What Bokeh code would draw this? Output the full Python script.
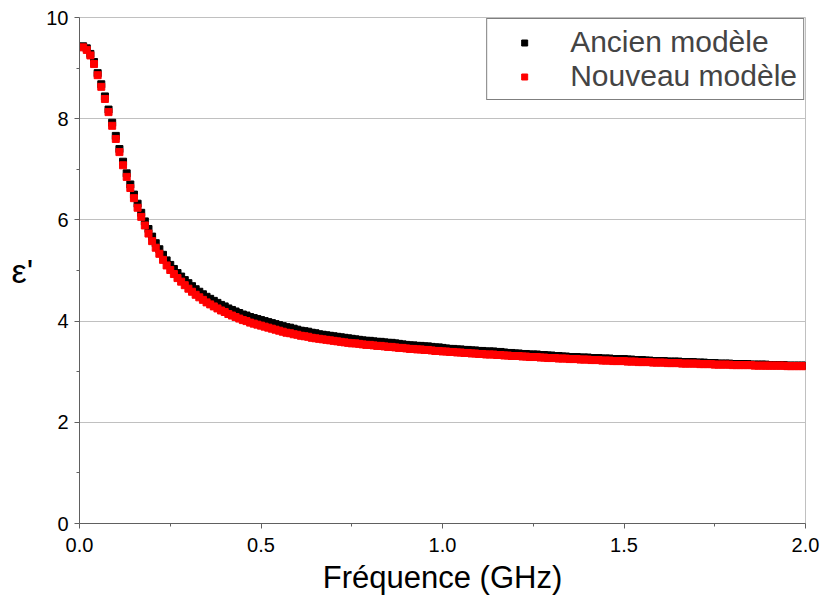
from bokeh.plotting import figure
from bokeh.models import Range1d, FixedTicker, Legend, LegendItem, NumeralTickFormatter
from bokeh.embed import file_html
from bokeh.resources import INLINE

freq = [
    0.01, 0.02, 0.03, 0.04, 0.05, 0.06, 0.07, 0.08, 0.09, 0.10,
    0.11, 0.12, 0.13, 0.14, 0.15, 0.16, 0.17, 0.18, 0.19, 0.20,
    0.21, 0.22, 0.23, 0.24, 0.25, 0.26, 0.27, 0.28, 0.29, 0.30,
    0.31, 0.32, 0.33, 0.34, 0.35, 0.36, 0.37, 0.38, 0.39, 0.40,
    0.41, 0.42, 0.43, 0.44, 0.45, 0.46, 0.47, 0.48, 0.49, 0.50,
    0.51, 0.52, 0.53, 0.54, 0.55, 0.56, 0.57, 0.58, 0.59, 0.60,
    0.61, 0.62, 0.63, 0.64, 0.65, 0.66, 0.67, 0.68, 0.69, 0.70,
    0.71, 0.72, 0.73, 0.74, 0.75, 0.76, 0.77, 0.78, 0.79, 0.80,
    0.81, 0.82, 0.83, 0.84, 0.85, 0.86, 0.87, 0.88, 0.89, 0.90,
    0.91, 0.92, 0.93, 0.94, 0.95, 0.96, 0.97, 0.98, 0.99, 1.00,
    1.01, 1.02, 1.03, 1.04, 1.05, 1.06, 1.07, 1.08, 1.09, 1.10,
    1.11, 1.12, 1.13, 1.14, 1.15, 1.16, 1.17, 1.18, 1.19, 1.20,
    1.21, 1.22, 1.23, 1.24, 1.25, 1.26, 1.27, 1.28, 1.29, 1.30,
    1.31, 1.32, 1.33, 1.34, 1.35, 1.36, 1.37, 1.38, 1.39, 1.40,
    1.41, 1.42, 1.43, 1.44, 1.45, 1.46, 1.47, 1.48, 1.49, 1.50,
    1.51, 1.52, 1.53, 1.54, 1.55, 1.56, 1.57, 1.58, 1.59, 1.60,
    1.61, 1.62, 1.63, 1.64, 1.65, 1.66, 1.67, 1.68, 1.69, 1.70,
    1.71, 1.72, 1.73, 1.74, 1.75, 1.76, 1.77, 1.78, 1.79, 1.80,
    1.81, 1.82, 1.83, 1.84, 1.85, 1.86, 1.87, 1.88, 1.89, 1.90,
    1.91, 1.92, 1.93, 1.94, 1.95, 1.96, 1.97, 1.98, 1.99, 2.00,
]

ancien = [
    9.43, 9.39, 9.28, 9.12, 8.90, 8.68, 8.44, 8.18, 7.92, 7.66,
    7.40, 7.15, 6.92, 6.70, 6.50, 6.32, 6.14, 5.97, 5.82, 5.67,
    5.54, 5.42, 5.31, 5.20, 5.11, 5.03, 4.95, 4.88, 4.81, 4.75,
    4.69, 4.63, 4.58, 4.53, 4.48, 4.44, 4.40, 4.36, 4.32, 4.29,
    4.25, 4.22, 4.19, 4.16, 4.13, 4.11, 4.08, 4.06, 4.04, 4.02,
    4.00, 3.98, 3.96, 3.94, 3.92, 3.90, 3.88, 3.87, 3.85, 3.83,
    3.81, 3.80, 3.79, 3.77, 3.76, 3.74, 3.73, 3.72, 3.71, 3.70,
    3.69, 3.68, 3.67, 3.66, 3.65, 3.64, 3.63, 3.62, 3.61, 3.61,
    3.60, 3.59, 3.59, 3.58, 3.57, 3.57, 3.56, 3.55, 3.54, 3.53,
    3.52, 3.52, 3.51, 3.51, 3.50, 3.50, 3.49, 3.48, 3.48, 3.47,
    3.46, 3.45, 3.45, 3.44, 3.44, 3.43, 3.43, 3.42, 3.42, 3.41,
    3.41, 3.40, 3.40, 3.40, 3.39, 3.39, 3.38, 3.37, 3.37, 3.36,
    3.36, 3.35, 3.35, 3.34, 3.34, 3.34, 3.33, 3.33, 3.32, 3.32,
    3.31, 3.31, 3.30, 3.30, 3.29, 3.29, 3.29, 3.28, 3.28, 3.28,
    3.27, 3.27, 3.27, 3.26, 3.26, 3.26, 3.25, 3.25, 3.25, 3.25,
    3.24, 3.24, 3.23, 3.23, 3.23, 3.22, 3.22, 3.21, 3.21, 3.21,
    3.21, 3.20, 3.20, 3.20, 3.20, 3.19, 3.19, 3.19, 3.19, 3.18,
    3.18, 3.18, 3.17, 3.17, 3.17, 3.16, 3.16, 3.16, 3.16, 3.15,
    3.15, 3.15, 3.15, 3.15, 3.14, 3.14, 3.14, 3.14, 3.14, 3.13,
    3.13, 3.13, 3.13, 3.13, 3.12, 3.12, 3.12, 3.12, 3.12, 3.12,
]

nouveau = [
    9.41, 9.36, 9.25, 9.08, 8.86, 8.63, 8.39, 8.13, 7.86, 7.60,
    7.34, 7.08, 6.85, 6.63, 6.43, 6.24, 6.06, 5.89, 5.73, 5.58,
    5.45, 5.33, 5.21, 5.10, 5.01, 4.93, 4.85, 4.78, 4.71, 4.64,
    4.58, 4.52, 4.47, 4.42, 4.37, 4.33, 4.29, 4.25, 4.21, 4.18,
    4.14, 4.11, 4.08, 4.05, 4.02, 4.00, 3.97, 3.95, 3.93, 3.91,
    3.89, 3.87, 3.85, 3.83, 3.81, 3.79, 3.77, 3.76, 3.74, 3.73,
    3.71, 3.70, 3.69, 3.67, 3.66, 3.65, 3.64, 3.63, 3.62, 3.61,
    3.60, 3.59, 3.58, 3.57, 3.56, 3.56, 3.55, 3.54, 3.53, 3.53,
    3.52, 3.51, 3.51, 3.50, 3.49, 3.49, 3.48, 3.47, 3.47, 3.46,
    3.45, 3.45, 3.44, 3.44, 3.43, 3.43, 3.42, 3.41, 3.41, 3.40,
    3.40, 3.39, 3.39, 3.38, 3.38, 3.37, 3.37, 3.36, 3.36, 3.35,
    3.35, 3.34, 3.34, 3.34, 3.33, 3.33, 3.32, 3.32, 3.31, 3.31,
    3.31, 3.30, 3.30, 3.29, 3.29, 3.29, 3.28, 3.28, 3.27, 3.27,
    3.27, 3.26, 3.26, 3.26, 3.25, 3.25, 3.25, 3.24, 3.24, 3.24,
    3.23, 3.23, 3.23, 3.22, 3.22, 3.22, 3.21, 3.21, 3.21, 3.21,
    3.20, 3.20, 3.20, 3.19, 3.19, 3.19, 3.19, 3.18, 3.18, 3.18,
    3.18, 3.17, 3.17, 3.17, 3.17, 3.16, 3.16, 3.16, 3.16, 3.16,
    3.15, 3.15, 3.15, 3.15, 3.14, 3.14, 3.14, 3.14, 3.14, 3.13,
    3.13, 3.13, 3.13, 3.13, 3.13, 3.12, 3.12, 3.12, 3.12, 3.12,
    3.12, 3.12, 3.12, 3.12, 3.11, 3.11, 3.11, 3.11, 3.11, 3.11,
]

x_ticks = [0.0, 0.5, 1.0, 1.5, 2.0]
x_minor = [0.25, 0.75, 1.25, 1.75]
y_ticks = [0, 2, 4, 6, 8, 10]
y_minor = [1, 3, 5, 7, 9]
series_names = ["Ancien modèle", "Nouveau modèle"]
x_title = "Fréquence (GHz)"
y_title = "ε'"

FONT = "Liberation Sans"

p = figure(width=823, height=599, output_backend="svg", toolbar_location=None,
           x_range=Range1d(0, 2), y_range=Range1d(0, 10),
           min_border_left=79, min_border_right=18, min_border_top=17, min_border_bottom=76)
p.background_fill_color = "white"
p.border_fill_color = "white"
p.outline_line_color = "#c0c0c0"
p.outline_line_width = 1

r_old = p.scatter(freq, ancien, marker="square", size=7, color="#000000")
r_new = p.scatter(freq, nouveau, marker="square", size=7, color="#ff0000")

p.xaxis.ticker = FixedTicker(ticks=x_ticks, minor_ticks=x_minor)
p.yaxis.ticker = FixedTicker(ticks=y_ticks, minor_ticks=y_minor)
p.xaxis.formatter = NumeralTickFormatter(format="0.0")
for ax in (p.xaxis[0], p.yaxis[0]):
    ax.axis_line_color = "#606060"
    ax.major_tick_line_color = "#606060"
    ax.minor_tick_line_color = "#606060"
    ax.major_tick_out = 5
    ax.major_tick_in = 0
    ax.minor_tick_out = 3
    ax.minor_tick_in = 0
    ax.major_label_text_font = FONT
    ax.major_label_text_font_size = "20px"
    ax.major_label_text_color = "black"
    ax.axis_label_text_font = FONT
    ax.axis_label_text_font_size = "31px"
    ax.axis_label_text_font_style = "normal"
    ax.axis_label_text_color = "black"
p.xaxis.major_label_standoff = 9
p.yaxis.major_label_standoff = 6
p.xaxis.axis_label = x_title
p.xaxis.axis_label_standoff = 5

yax = p.yaxis[0]
yax.axis_label = y_title
yax.axis_label_standoff = 10
yax.axis_label_text_font_size = "34px"
if "axis_label_orientation" in yax.properties():
    yax.axis_label_orientation = "horizontal"

p.xgrid.visible = False
p.ygrid.ticker = FixedTicker(ticks=[2, 4, 6, 8, 10])
p.ygrid.grid_line_color = "#c0c0c0"
p.ygrid.grid_line_width = 1

legend = Legend(items=[LegendItem(label=series_names[0], renderers=[r_old]),
                       LegendItem(label=series_names[1], renderers=[r_new])],
                location="top_right", margin=1, padding=6, spacing=0,
                glyph_width=62, glyph_height=15, label_standoff=15,
                label_text_font=FONT, label_text_font_size="30px", label_height=30,
                border_line_color="black", border_line_width=1,
                background_fill_color="white", background_fill_alpha=1.0)
p.add_layout(legend)

open("out.html", "w").write(file_html(p, INLINE))
